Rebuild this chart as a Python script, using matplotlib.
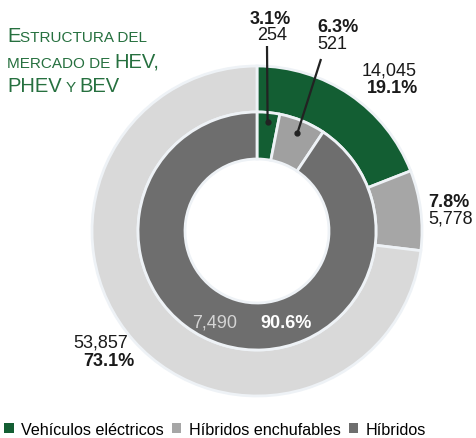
import matplotlib
matplotlib.use("Agg")
import matplotlib.pyplot as plt
from matplotlib.patches import Patch
import numpy as np

plt.rcParams["font.family"] = ["Liberation Sans", "DejaVu Sans"]

# data
categories = ["Vehículos eléctricos", "Híbridos enchufables", "Híbridos"]
outer_values = [14045, 5778, 53857]      # BEV, PHEV, HEV (mercado)
outer_pct = ["19.1%", "7.8%", "73.1%"]
inner_values = [254, 521, 7490]
inner_pct = ["3.1%", "6.3%", "90.6%"]

outer_colors = ["#135e33", "#a6a6a6", "#d9d9d9"]
inner_colors = ["#135e33", "#a0a0a0", "#6e6e6e"]
legend_colors = ["#135e33", "#a6a6a6", "#6e6e6e"]
title_green = "#26703f"

W, H = 476, 439
fig = plt.figure(figsize=(W / 100, H / 100), dpi=100)
ax = fig.add_axes([0, 0, 1, 1])


def py(y):
    # pixel row from top -> data y
    return H - y


cx, cy = 257, py(232)
edge = dict(edgecolor="#eef2f6", linewidth=2)

ax.pie(outer_values, colors=outer_colors, radius=165, center=(cx, cy),
       startangle=90, counterclock=False, wedgeprops=dict(width=46, **edge),
       frame=True)
ax.pie(inner_values, colors=inner_colors, radius=119, center=(cx, cy),
       startangle=90, counterclock=False, wedgeprops=dict(width=47, **edge),
       frame=True)
ax.set_xlim(0, W)
ax.set_ylim(0, H)
ax.set_aspect("equal")
ax.axis("off")

fs = 13
dark = "#1a1a1a"

# outer labels
ax.text(417, py(75), f"{outer_values[0]:,}", ha="right", va="baseline", fontsize=fs, color=dark)
ax.text(418, py(93), outer_pct[0], ha="right", va="baseline", fontsize=fs, color=dark, fontweight="bold")
ax.text(428, py(207), outer_pct[1], ha="left", va="baseline", fontsize=fs, color=dark, fontweight="bold")
ax.text(428, py(224), f"{outer_values[1]:,}", ha="left", va="baseline", fontsize=fs, color=dark)
ax.text(128, py(348), f"{outer_values[2]:,}", ha="right", va="baseline", fontsize=fs, color=dark)
ax.text(135, py(366), outer_pct[2], ha="right", va="baseline", fontsize=fs, color=dark, fontweight="bold")

# inner labels
ax.text(270, py(24), inner_pct[0], ha="center", va="baseline", fontsize=fs, color=dark, fontweight="bold")
ax.text(272, py(40), f"{inner_values[0]:,}", ha="center", va="baseline", fontsize=fs, color=dark)
ax.text(317, py(32), inner_pct[1], ha="left", va="baseline", fontsize=fs, color=dark, fontweight="bold")
ax.text(317, py(49), f"{inner_values[1]:,}", ha="left", va="baseline", fontsize=fs, color=dark)
ax.text(237, py(328), f"{inner_values[2]:,}", ha="right", va="baseline", fontsize=fs, color="#d4d4d4")
ax.text(260, py(328), inner_pct[2], ha="left", va="baseline", fontsize=fs, color="white", fontweight="bold")

# leader lines to the two small inner wedges
fr = np.array(inner_values) / sum(inner_values)
start = np.concatenate([[0], np.cumsum(fr)[:-1]])
mids = np.deg2rad(90 - (start + fr / 2) * 360)
anchors = [(267, py(47)), (321, py(60))]
for ang, (ax0, ay0), r in zip(mids[:2], anchors, [110, 106]):
    dx, dy = cx + r * np.cos(ang), cy + r * np.sin(ang)
    ax.plot([ax0, dx], [ay0, dy], color="#222222", lw=1.6, solid_capstyle="butt")
    ax.plot(dx, dy, "o", color="#222222", ms=3.5)

# title in small caps
renderer = fig.canvas.get_renderer()
title_lines = [
    [("E", 14.5), ("STRUCTURA DEL", 11)],
    [("MERCADO DE ", 11), ("HEV,", 14.5)],
    [("PHEV", 14.5), (" Y ", 11), ("BEV", 14.5)],
]
baselines = [42, 68, 92]
for parts, base in zip(title_lines, baselines):
    x = 7
    for txt, size in parts:
        t = ax.text(x, py(base), txt, ha="left", va="baseline", fontsize=size, color=title_green)
        x += t.get_window_extent(renderer).width

handles = [Patch(facecolor=c, edgecolor="none") for c in legend_colors]
ax.legend(handles, categories, loc="lower left", bbox_to_anchor=(4 / W, 1 / H),
          ncol=3, frameon=False, fontsize=11.6, handlelength=0.6, handleheight=0.6,
          handletextpad=0.45, columnspacing=0.5, borderaxespad=0, borderpad=0)

fig.savefig("out.png", dpi=100)
